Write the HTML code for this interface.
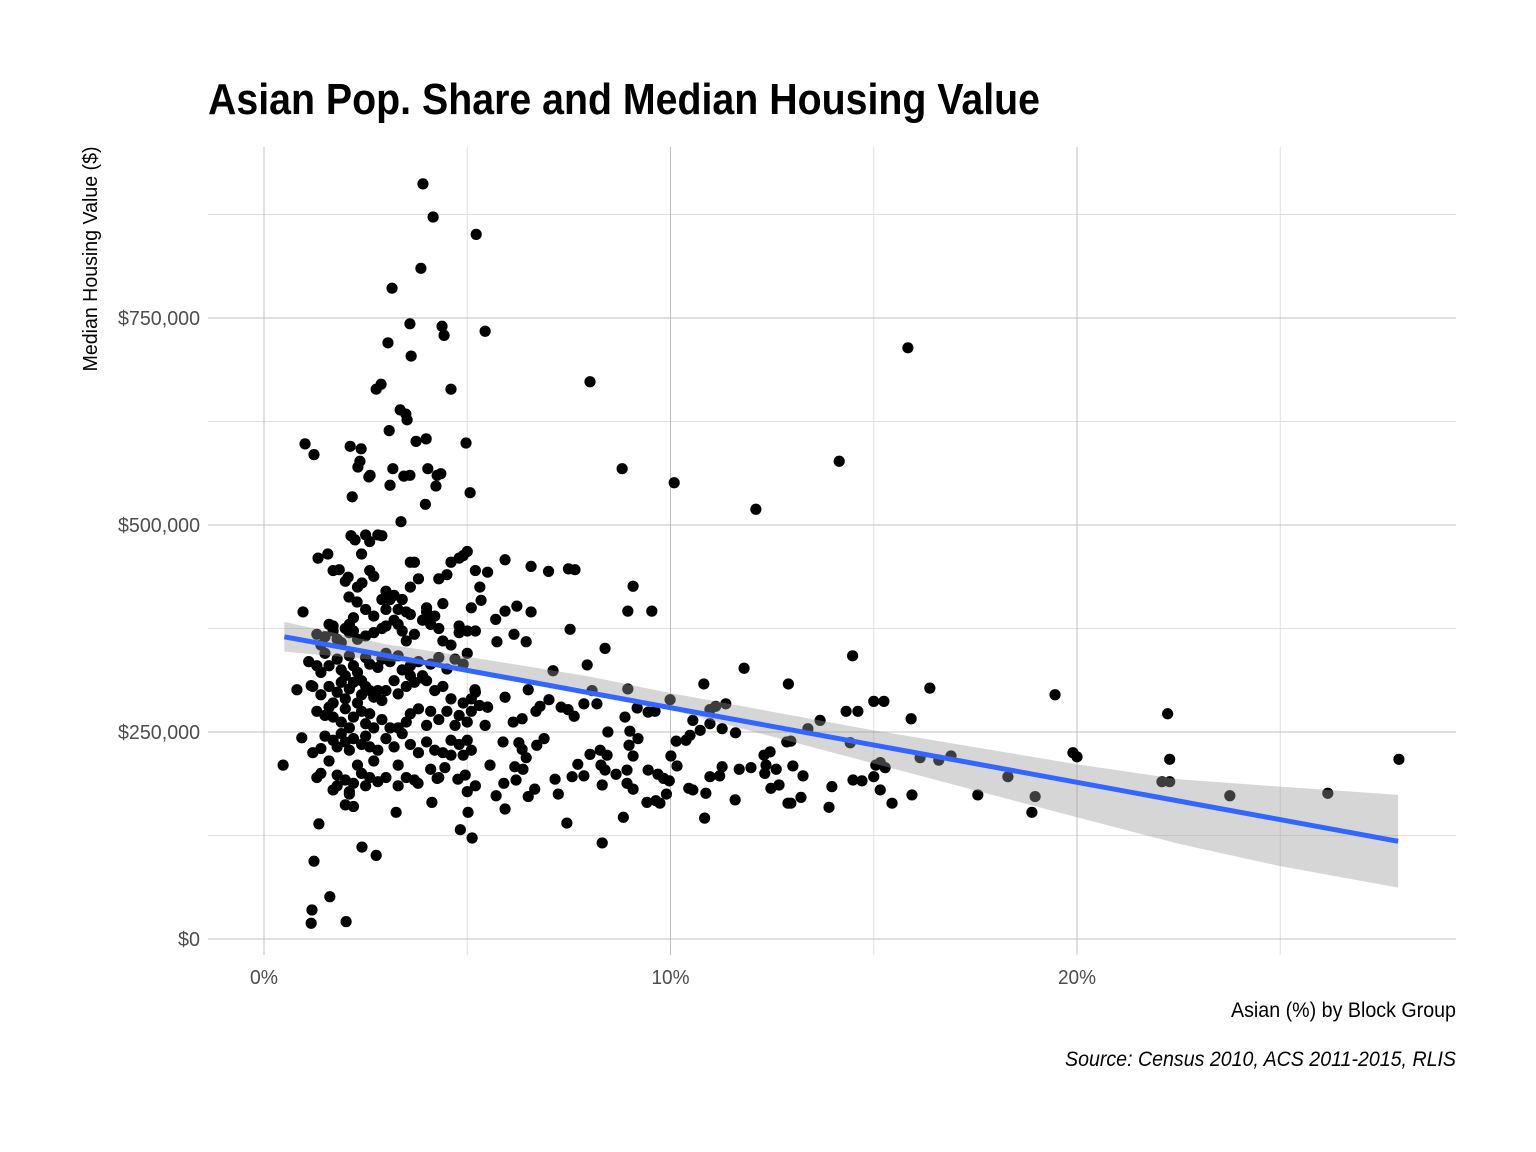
<!DOCTYPE html>
<html><head><meta charset="utf-8"><style>
body{margin:0;background:#fff;}
svg{display:block;}
text{font-family:"Liberation Sans Narrow","Liberation Sans",sans-serif;}
</style></head><body>
<svg id="chart" width="1536" height="1152" viewBox="0 0 1536 1152" xmlns="http://www.w3.org/2000/svg">
<rect width="1536" height="1152" fill="#fff"/>
<text x="208" y="114" font-size="44" font-weight="bold" fill="#000" textLength="832" lengthAdjust="spacingAndGlyphs">Asian Pop. Share and Median Housing Value</text>
<g id="grid"></g>
<g id="points"></g>
<g id="fit"></g>
<g id="axes"></g>
<text transform="translate(97,259) rotate(-90)" text-anchor="middle" font-size="20" fill="#000" textLength="225" lengthAdjust="spacingAndGlyphs">Median Housing Value ($)</text>
<text x="1456" y="1017" text-anchor="end" font-size="21" fill="#000" textLength="225" lengthAdjust="spacingAndGlyphs">Asian (%) by Block Group</text>
<text x="1456" y="1066" text-anchor="end" font-size="21" font-style="italic" fill="#000" textLength="391" lengthAdjust="spacingAndGlyphs">Source: Census 2010, ACS 2011-2015, RLIS</text>
</svg>
<script>
const xPct = [3.91,4.16,5.22,3.86,3.15,3.59,4.38,4.43,5.44,3.05,3.62,15.84,8.02,2.88,2.76,4.6,3.35,3.49,3.52,3.08,3.74,3.99,4.97,1.01,2.12,2.39,1.23,2.36,2.31,3.17,4.03,8.81,14.15,2.61,2.58,3.44,3.59,4.26,4.35,4.23,3.1,3.97,10.09,5.07,2.17,3.37,12.1,
7.11,7.53,7.49,7.65,7.0,6.57,9.08,8.95,9.54,8.39,7.95,8.95,8.07,9.99,10.82,11.81,12.9,14.48,16.38,15.0,15.25,14.32,14.61,15.92,19.46,22.23,22.28,19.9,20.0,27.92,26.17,23.76,22.09,22.28,18.3,18.97,18.89,17.56,16.9,16.6,16.14,15.94,15.45,15.28,15.16,15.05,15.0,15.16,14.71,14.49,14.42,13.68,13.38,13.97,13.9,13.26,13.21,13.01,12.96,12.86,12.96,12.89,12.67,12.47,12.6,12.45,12.3,12.35,12.32,11.98,11.69,11.59,11.6,11.36,11.11,10.97,11.27,10.97,10.73,10.55,10.48,10.38,10.14,10.01,10.16,10.45,10.55,10.87,10.84,10.97,11.21,11.27,9.9,9.97,9.83,9.74,9.64,9.45,9.69,9.42,9.2,9.08,8.98,9.0,8.88,9.18,9.45,9.62,8.93,9.08,8.93,8.84,8.66,8.44,8.39,8.32,8.32,8.29,8.27,8.02,8.19,8.46,7.87,7.87,7.72,7.58,7.45,7.63,7.48,7.31,7.16,7.24,7.01,6.89,6.79,6.69,6.66,6.71,6.5,6.5,6.45,6.35,6.35,6.27,6.17,6.2,6.37,6.13,6.22,6.57,6.45,6.15,5.93,5.93,5.5,5.7,5.73,5.31,5.34,5.93,5.88,5.9,5.93,5.71,5.56,5.44,5.5,5.19,5.12,5.02,4.95,5.0,4.83,4.77,4.45,4.26,4.13,3.79,3.25,2.76,2.41,2.02,1.62,1.16,1.18,1.23,1.35,0.47,0.81,0.93,0.96,1.16,1.33,1.57,1.85,2.07,2.09,2.29,2.41,2.14,2.24,
1.3,1.4,1.5,1.6,1.7,1.8,1.9,2.0,2.1,2.2,2.3,2.5,2.7,2.9,3.0,3.2,3.3,3.4,3.5,3.7,3.9,4.0,4.1,4.2,4.4,4.6,4.8,5.0,
1.1,1.3,1.4,1.5,1.6,1.8,1.9,2.0,2.1,2.2,2.3,2.4,2.5,2.6,2.8,2.9,3.0,3.1,3.3,3.4,3.6,3.8,3.9,4.1,4.3,4.5,4.7,4.9,5.0,
1.2,1.4,1.6,1.7,1.8,1.9,2.0,2.1,2.2,2.3,2.4,2.5,2.6,2.7,2.8,2.9,3.0,3.2,3.3,3.5,3.6,3.7,3.9,4.0,4.2,4.4,4.6,4.9,5.1,5.2,
1.3,1.5,1.6,1.7,1.9,2.0,2.1,2.2,2.4,2.5,2.6,2.7,2.9,3.1,3.3,3.5,3.6,3.8,4.0,4.1,4.3,4.5,4.7,4.8,5.0,5.1,5.3,5.5,
1.2,1.4,1.5,1.7,1.8,1.9,2.0,2.1,2.2,2.4,2.5,2.6,2.8,3.0,3.2,3.4,3.6,3.8,4.0,4.2,4.4,4.6,4.8,5.0,5.1,
1.3,1.4,1.6,1.7,1.8,2.0,2.1,2.2,2.3,2.4,2.5,2.6,2.7,2.8,3.0,3.3,3.5,3.7,4.1,4.3,4.6,4.9,5.2,
2.1,2.2,2.0,1.8,3.3,
1.7,2.0,2.3,2.6,2.7,2.9,3.0,3.2,3.4,3.6,3.7,3.8,4.0,4.3,4.4,4.5,4.6,4.8,4.9,5.0,5.1,5.2,2.4,2.5,2.8,2.9,2.6,3.6,2.7,3.0,3.1,3.5,3.6,4.0,4.3,2.2,2.5,2.1,1.7,3.3,4.8,5.2];
const yK = [912,872,851,810,786,743,740,729,734,720,704,714,673,670,664,664,639,634,627,614,601,604,599,598,595,592,585,577,570,568,568,568,577,560,558,559,560,560,562,547,548,525,551,539,534,504,519,
324,374,447,446,444,450,426,396,396,351,331,302,300,289,308,327,308,342,303,287,287,275,275,266,295,272,217,225,220,217,176,173,190,190,196,172,153,174,221,216,219,174,164,207,213,210,196,180,191,192,237,264,254,184,159,197,171,209,239,238,164,164,186,182,205,226,222,210,200,207,205,168,249,284,281,277,254,260,252,264,246,240,239,221,209,182,180,176,146,196,197,208,175,191,194,164,167,204,199,165,242,221,234,251,268,279,274,275,204,181,188,147,199,222,204,186,116,210,228,223,284,250,284,197,211,196,140,269,277,280,193,175,289,242,281,275,181,234,301,172,219,229,266,237,208,192,205,262,402,395,359,368,396,458,443,386,359,425,409,292,238,188,157,173,210,258,280,301,122,153,198,178,132,193,207,194,165,188,153,101,111,21,51,19,35,94,139,210,301,243,395,306,460,465,446,437,413,407,430,487,482,
368,355,365,380,372,362,358,375,370,372,362,366,370,375,378,385,380,372,360,368,385,395,380,390,360,355,378,372,
335,330,322,345,330,338,325,318,342,330,322,312,340,332,328,338,345,335,342,325,330,335,318,332,340,326,338,332,345,
305,295,305,285,298,310,290,302,310,285,295,305,300,292,300,288,300,312,296,305,318,310,315,312,300,305,290,285,290,298,
275,270,280,268,262,278,255,268,275,260,272,255,265,255,255,262,272,278,258,275,265,275,258,270,262,275,282,280,
225,230,245,240,232,248,238,228,242,235,245,232,228,242,232,248,235,225,238,228,225,240,235,240,228,
195,200,215,180,198,192,178,188,210,200,185,195,215,190,195,210,195,192,205,195,222,222,185,
175,160,162,185,185,
445,432,425,445,438,410,420,415,410,425,455,435,400,435,405,440,455,460,463,468,400,445,465,488,488,487,480,455,390,398,410,395,392,388,375,388,398,380,378,398,370,372];
const bandX = [0.5,3,5,8,10,15,20,22.5,25,27.9];
const bandLo = [347,336,325,301,277,212,147,115,88,62];
const bandHi = [383,356,341,317,297,252,211,193,184,174];
const fitX = [0.5,27.9];
const fitY = [365,118];
const xTicks = [0,10,20];
const xTickLabels = ["0%","10%","20%"];
const xMinor = [5,15,25];
const yTicks = [0,250,500,750];
const yTickLabels = ["$0","$250,000","$500,000","$750,000"];
const yMinor = [125,375,625,875];

const L=208,R=1456,T=147,B=955;
const sx = v => 264 + v*40.65;
const sy = v => 939 - v*0.828;
const NS="http://www.w3.org/2000/svg";
function mk(tag, parent, attrs){const e=document.createElementNS(NS,tag);for(const k in attrs)e.setAttribute(k,attrs[k]);parent.appendChild(e);return e;}
const grid=document.getElementById('grid'), pts=document.getElementById('points'), fit=document.getElementById('fit'), axes=document.getElementById('axes');
xMinor.forEach(v=>{const l=mk('line',grid,{x1:sx(v),x2:sx(v),y1:T,y2:B,stroke:'#e0e0e0','stroke-width':1});

});
yMinor.forEach(v=>{const l=mk('line',grid,{x1:L,x2:R,y1:sy(v),y2:sy(v),stroke:'#e0e0e0','stroke-width':1});

});
xTicks.forEach((v,i)=>{const l=mk('line',grid,{x1:sx(v),x2:sx(v),y1:T,y2:B,stroke:'#c0c0c0','stroke-width':1});


const w = xTickLabels[i].length*10+8;
const t=mk('text',axes,{x:sx(v),y:984,'text-anchor':'middle','font-size':20,fill:'#4d4d4d',textLength:w,lengthAdjust:'spacingAndGlyphs'});t.textContent=xTickLabels[i];

});
yTicks.forEach((v,i)=>{const l=mk('line',grid,{x1:L,x2:R,y1:sy(v),y2:sy(v),stroke:'#c0c0c0','stroke-width':1});


const w = yTickLabels[i].length>2 ? 82 : 22;
const t=mk('text',axes,{x:200,y:sy(v)+7,'text-anchor':'end','font-size':20,fill:'#4d4d4d',textLength:w,lengthAdjust:'spacingAndGlyphs'});t.textContent=yTickLabels[i];

});
for(let i=0;i<xPct.length;i++){const c=mk('circle',pts,{cx:sx(xPct[i]),cy:sy(yK[i]),r:5.6,fill:'#000'});

}
let d='M'+bandX.map((x,i)=>sx(x)+','+sy(bandHi[i])).join('L');
d+='L'+bandX.slice().reverse().map((x,i)=>sx(x)+','+sy(bandLo[bandX.length-1-i])).join('L')+'Z';
const band=mk('path',fit,{d:d,fill:'#999','fill-opacity':0.4});


const ln=mk('line',fit,{x1:sx(fitX[0]),y1:sy(fitY[0]),x2:sx(fitX[1]),y2:sy(fitY[1]),stroke:'#3366FF','stroke-width':5});


</script>
</body></html>
